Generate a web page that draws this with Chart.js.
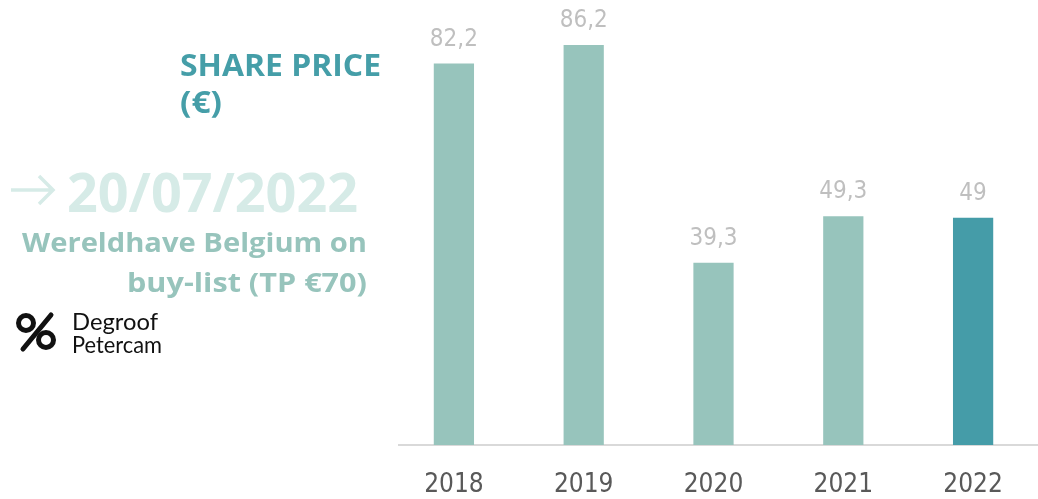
<!DOCTYPE html>
<html>
<head>
<meta charset="utf-8">
<script src="https://cdn.jsdelivr.net/npm/chart.js@4.4.1/dist/chart.umd.min.js"></script>
<style>
  html,body{margin:0;padding:0;background:#fff;}
  #wrap{position:relative;width:1038px;height:499px;overflow:hidden;}
  #c{position:absolute;left:0;top:0;}
  .t{position:absolute;white-space:nowrap;font-family:"Open Sans",sans-serif;transform-origin:0 0;line-height:1;}
</style>
</head>
<body>
<div id="wrap">
  <canvas id="c" width="1038" height="499"></canvas>
  <div class="t" id="t1" data-w="201" style="left:180px;top:50px;font-size:30px;font-weight:700;color:#459ea8;">SHARE PRICE</div>
  <div class="t" id="t2" data-w="42" style="left:180px;top:87px;font-size:30px;font-weight:700;color:#459ea8;">(€)</div>
  <svg style="position:absolute;left:8px;top:172px" width="50" height="38" viewBox="0 0 50 38">
    <path d="M3 18 H45 M31 4 L45 18 L31 32" fill="none" stroke="#d6ebe7" stroke-width="3.5"/>
  </svg>
  <div class="t" id="t3" data-w="291" style="left:67px;top:164px;font-size:54px;font-weight:700;color:#d6ebe7;">20/07/2022</div>
  <div class="t" id="t4" data-w="345" data-r="367" style="top:228px;font-size:27px;font-weight:700;color:#97c4bc;">Wereldhave Belgium on</div>
  <div class="t" id="t5" data-w="240" data-r="367" style="top:268px;font-size:27px;font-weight:700;color:#97c4bc;">buy-list (TP €70)</div>
  <svg style="position:absolute;left:15px;top:311px" width="44" height="42" viewBox="0 0 44 42">
    <circle cx="11" cy="12" r="7.5" fill="none" stroke="#111" stroke-width="5"/>
    <circle cx="31" cy="29" r="7.5" fill="none" stroke="#111" stroke-width="5"/>
    <path d="M36 4 L8 38" stroke="#111" stroke-width="5" stroke-linecap="round"/>
  </svg>
  <div class="t" id="t6" data-w="86" style="left:72px;top:310px;font-size:23px;font-weight:400;color:#111;font-family:'Lato',sans-serif;">Degroof</div>
  <div class="t" id="t7" data-w="90" style="left:72px;top:333px;font-size:23px;font-weight:400;color:#111;font-family:'Lato',sans-serif;">Petercam</div>
</div>
<script>
const categories = ["2018", "2019", "2020", "2021", "2022"];
const sharePrice = [82.2, 86.2, 39.3, 49.3, 49];
const valueLabels = ["82,2", "86,2", "39,3", "49,3", "49"];
const barColors = ["#97c4bc", "#97c4bc", "#97c4bc", "#97c4bc", "#459ca8"];

// fit overlay texts to measured widths
document.querySelectorAll('.t').forEach(el => {
  const w = el.getBoundingClientRect().width;
  const target = +el.dataset.w;
  const s = target / w;
  if (el.dataset.r) el.style.left = (+el.dataset.r - target) + 'px';
  el.style.transform = 'scaleX(' + s + ')';
});

const valueLabelPlugin = {
  id: 'valueLabels',
  beforeDatasetsDraw(chart) {
    const ctx = chart.ctx;
    const y = chart.chartArea.bottom;
    ctx.save();
    ctx.strokeStyle = '#d9d9d9';
    ctx.lineWidth = 2;
    ctx.beginPath();
    ctx.moveTo(398, y);
    ctx.lineTo(chart.width, y);
    ctx.stroke();
    ctx.restore();
  },
  afterDatasetsDraw(chart) {
    const ctx = chart.ctx;
    const meta = chart.getDatasetMeta(0);
    ctx.save();
    ctx.font = '24px "Liberation Sans Narrow", "DejaVu Sans Condensed", sans-serif';
    ctx.fillStyle = '#bfbfbf';
    ctx.textAlign = 'center';
    ctx.textBaseline = 'alphabetic';
    meta.data.forEach((bar, i) => {
      ctx.fillText(valueLabels[i], bar.x, bar.y - 18);
    });
    ctx.restore();
  }
};

new Chart(document.getElementById('c'), {
  type: 'bar',
  data: {
    labels: categories,
    datasets: [{
      data: sharePrice,
      backgroundColor: barColors,
      barPercentage: 0.62,
      categoryPercentage: 0.5
    }]
  },
  options: {
    responsive: false,
    animation: false,
    layout: { padding: { left: 389, right: 0, top: 0, bottom: 0 } },
    plugins: { legend: { display: false }, tooltip: { enabled: false } },
    scales: {
      y: { display: false, min: 0, max: 95.9 },
      x: {
        grid: { display: false, drawTicks: false },
        border: { display: false },
        ticks: {
          color: '#595959',
          padding: 25,
          font: { family: '"Liberation Sans Narrow", "DejaVu Sans Condensed", sans-serif', size: 26 }
        },
        afterFit(scale) { scale.height = 54; }
      }
    }
  },
  plugins: [valueLabelPlugin]
});
</script>
</body>
</html>
